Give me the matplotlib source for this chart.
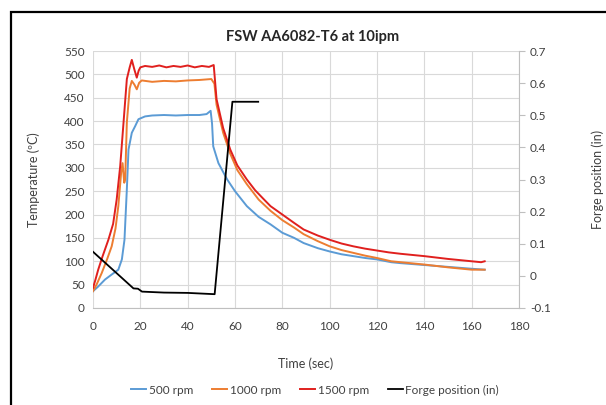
import matplotlib
matplotlib.use("Agg")
import matplotlib.pyplot as plt
from matplotlib.patches import Rectangle
from matplotlib.ticker import FuncFormatter

plt.rcParams["font.family"] = ["Lato", "DejaVu Sans"]

# values
t_500 = [0, 2, 5.1, 8, 10.7, 12.2, 13.3, 14.3, 15, 16.4, 17.8, 19.2, 22, 25, 30,
         35, 40, 45, 48, 49.7, 50.3, 50.8, 53, 56.7, 60, 65, 70, 75, 80, 85, 89,
         95, 100, 105, 110, 115, 120, 126, 130, 140, 150, 160, 165.5]
temp_500 = [36, 45, 61, 72, 82, 104, 146, 254, 339, 375, 389, 404, 410, 412, 413,
            412, 413, 413, 415, 422, 395, 346, 310, 275, 250, 218, 195, 179, 161,
            150, 139, 128, 121, 115, 111, 107, 104, 98, 96, 92, 88, 84, 82]

t_1000 = [0, 1.5, 3.7, 6, 7.9, 9.5, 10.7, 11.9, 12.5, 13.2, 13.6, 14.3, 15.5,
          16.4, 17.5, 18.5, 19.5, 20.6, 25, 30, 35, 40, 45, 50, 51.3, 52.2, 55,
          58, 61, 65, 70, 75, 80, 85, 89, 95, 100, 105, 110, 115, 120, 126, 130,
          140, 150, 160, 165.5]
temp_1000 = [36, 50, 75, 105, 132, 170, 218, 290, 310, 268, 275, 397, 470, 486,
             478, 468, 482, 487, 484, 486, 485, 487, 488, 490, 480, 435, 375, 330,
             295, 265, 232, 208, 188, 172, 158, 143, 132, 124, 118, 112, 107, 100,
             98, 93, 87, 82, 82]

t_1500 = [0, 1, 2.2, 4, 6.5, 8.5, 10, 11.5, 12.9, 14.3, 15.5, 16.4, 17.5, 18.5,
          19.3, 20, 22, 25, 28, 31, 34, 37, 40, 43, 46, 49, 51, 51.5, 52.2, 55,
          58, 61, 65, 68.5, 72.3, 75, 80, 85, 89, 95, 100, 105, 110, 115, 120,
          125, 130, 140, 150, 160, 164, 165.5]
temp_1500 = [43, 60, 82, 110, 146, 180, 232, 304, 397, 490, 515, 531, 510, 493,
             508, 515, 518, 516, 519, 515, 518, 516, 519, 515, 518, 516, 520, 490,
             447, 385, 339, 305, 275, 252, 232, 218, 200, 182, 168, 155, 146, 138,
             132, 127, 123, 119, 116, 111, 105, 100, 98, 100]

t_forge = [0, 17.1, 19, 20.7, 30, 40, 51.4, 58.9, 69.8]
forge_pos = [0.075, -0.039, -0.040, -0.049, -0.052, -0.053, -0.057, 0.542, 0.542]

x_ticks = list(range(0, 181, 20))
temp_ticks = list(range(0, 551, 50))
forge_ticks = [-0.1, 0, 0.1, 0.2, 0.3, 0.4, 0.5, 0.6, 0.7]

GRID = "#d9d9d9"
TICK_TXT = "#404040"

fig = plt.figure(figsize=(6.06, 4.05), dpi=100)
ax = fig.add_axes([93 / 606, 1 - 308 / 405, 426 / 606, 257 / 405])
ax2 = ax.twinx()

l1, = ax.plot(t_500, temp_500, color="#5B9BD5", lw=1.4, label="500 rpm")
l2, = ax.plot(t_1000, temp_1000, color="#ED7D31", lw=1.4, label="1000 rpm")
l3, = ax.plot(t_1500, temp_1500, color="#E0201E", lw=1.4, label="1500 rpm")
l4, = ax2.plot(t_forge, forge_pos, color="black", lw=1.3, label="Forge position (in)")

ax.set_xlim(0, 180)
ax.set_ylim(0, 550)
ax.set_xticks(x_ticks)
ax.set_yticks(temp_ticks)
ax2.set_ylim(-0.1, 0.7)
ax2.set_yticks(forge_ticks)
ax2.yaxis.set_major_formatter(FuncFormatter(lambda v, _: "0" if abs(v) < 1e-9 else f"{v:g}"))

ax.grid(True, color=GRID, lw=0.8)
ax.set_axisbelow(True)
for a in (ax, ax2):
    for s in a.spines.values():
        s.set_visible(False)
ax.spines["bottom"].set_visible(True)
ax.spines["bottom"].set_color("#bfbfbf")
ax2.spines["right"].set_visible(True)
ax2.spines["right"].set_color("#bfbfbf")

ax.tick_params(axis="both", length=0, labelsize=8.5, labelcolor=TICK_TXT, pad=6)
ax.tick_params(axis="x", pad=9)
ax2.tick_params(axis="y", length=4, color="#bfbfbf", labelsize=8.5,
                labelcolor=TICK_TXT, pad=4)

ax.set_xlabel("Time (sec)", fontsize=9, color=TICK_TXT, labelpad=19)
ax.set_ylabel("Temperature (ºC)", fontsize=9, color=TICK_TXT)
ax.yaxis.set_label_coords(-53 / 426, 0.5)
ax2.set_ylabel("Forge position (in)", fontsize=9, color=TICK_TXT)
ax2.yaxis.set_label_coords(498 / 426, 0.5)

fig.text(0.515, 1 - 37 / 405, "FSW AA6082-T6 at 10ipm", ha="center", va="center",
         fontsize=10.5, fontweight="bold", color="#262626")

fig.legend(handles=[l1, l2, l3, l4], loc="center", bbox_to_anchor=(0.52, 1 - 390 / 405),
           ncol=4, frameon=False, fontsize=8.5, handlelength=1.3, handletextpad=0.2,
           columnspacing=1.6, labelcolor=TICK_TXT)

fig.patches.append(Rectangle((10.5 / 606, -0.2), 1.5, 1.2 - 12 / 405,
                             transform=fig.transFigure, fill=False,
                             edgecolor="black", lw=1.6))

fig.savefig("out.png", dpi=100)
